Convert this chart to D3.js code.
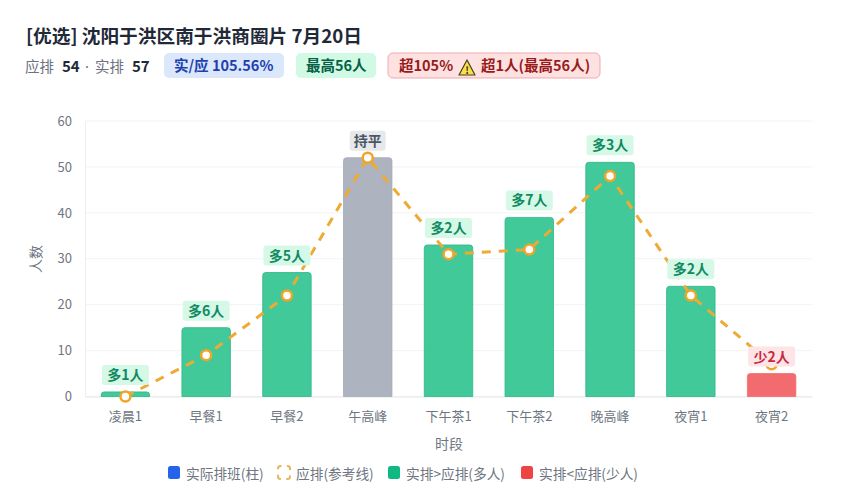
<!DOCTYPE html>
<html>
<head>
<meta charset="utf-8">
<script src="https://cdn.jsdelivr.net/npm/d3@7"></script>
<style>
  html, body { margin: 0; padding: 0; background: #fff; }
  svg { display: block; }
  text { font-family: "Noto Sans CJK SC", "Noto Sans", sans-serif; }
</style>
</head>
<body>
<div id="chart"></div>
<script>
const periods = ["凌晨1", "早餐1", "早餐2", "午高峰", "下午茶1", "下午茶2", "晚高峰", "夜宵1", "夜宵2"];
const actual = [1, 15, 27, 52, 33, 39, 51, 24, 5];
const planned = [0, 9, 22, 52, 31, 32, 48, 22, 7];
const yTicks = [0, 10, 20, 30, 40, 50, 60];
const legendLabels = ["实际排班(柱)", "应排(参考线)", "实排>应排(多人)", "实排<应排(少人)"];

const width = 844;
const height = 500;
const margin = { top: 121, right: 32, bottom: 103.5, left: 85 };

const svg = d3.select("#chart").append("svg")
  .attr("width", width)
  .attr("height", height);

// header
svg.append("text").attr("x", 26).attr("y", 43)
  .attr("font-size", 18.7).attr("font-weight", 700).attr("fill", "#1f2937")
  .text("[优选] 沈阳于洪区南于洪商圈片 7月20日");

const sub = svg.append("text").attr("x", 25).attr("y", 72).attr("font-size", 14.5).attr("fill", "#6b7280");
sub.append("tspan").text("应排");
sub.append("tspan").attr("x", 62).attr("font-size", 15).attr("font-weight", 700).attr("fill", "#1f2937").text("54");
sub.append("tspan").attr("x", 85).style("font-family", "'Noto Sans'").text("·");
sub.append("tspan").attr("x", 95).text("实排");
sub.append("tspan").attr("x", 132).attr("font-size", 15).attr("font-weight", 700).attr("fill", "#1f2937").text("57");

const pills = [
  { x: 164, w: 120, bg: "#dbe7fb", stroke: "none", fg: "#1e40af", tx: 174, t: "实/应 105.56%" },
  { x: 296, w: 80, bg: "#d1fae5", stroke: "none", fg: "#065f46", tx: 306, t: "最高56人" },
  { x: 388, w: 212, bg: "#fee2e2", stroke: "#f1a9ae", fg: "#991b1b", tx: 399, t: "超105%" }
];
pills.forEach(p => {
  svg.append("rect").attr("x", p.x).attr("y", 53).attr("width", p.w).attr("height", 25).attr("rx", 5)
    .attr("fill", p.bg).attr("stroke", p.stroke);
  svg.append("text").attr("x", p.tx).attr("y", 71).attr("font-size", 14.5).attr("font-weight", 600)
    .attr("fill", p.fg).text(p.t);
});
svg.append("path").attr("d", "M467 60 L475 75 L459 75 Z")
  .attr("fill", "#fde047").attr("stroke", "#3f3f1f").attr("stroke-width", 1.2).attr("stroke-linejoin", "round");
svg.append("text").attr("x", 467).attr("y", 74).attr("text-anchor", "middle")
  .attr("font-size", 10).attr("font-weight", 700).attr("fill", "#333").text("!");
svg.append("text").attr("x", 481).attr("y", 71).attr("font-size", 14.5).attr("font-weight", 600)
  .attr("fill", "#991b1b").text("超1人(最高56人)");

// scales
const x = d3.scaleBand().domain(periods).range([margin.left, width - margin.right]).paddingInner(0.4).paddingOuter(0.2);
const band = d3.scaleBand().domain(periods).range([margin.left, width - margin.right]);
const y = d3.scaleLinear().domain([0, 60]).range([height - margin.bottom, margin.top]);

// grid
svg.append("g").selectAll("line").data(yTicks).enter().append("line")
  .attr("x1", margin.left).attr("x2", width - margin.right)
  .attr("y1", d => y(d)).attr("y2", d => y(d))
  .attr("stroke", "#f1f3f6");

// axes
const yAxis = svg.append("g").attr("transform", `translate(${margin.left},0)`)
  .call(d3.axisLeft(y).tickValues(yTicks).tickSize(0).tickPadding(13));
yAxis.select(".domain").attr("stroke", "#eceef2");
yAxis.selectAll("text").attr("font-size", 13).attr("fill", "#6f7682");

const xAxis = svg.append("g").attr("transform", `translate(0,${y(0)})`)
  .call(d3.axisBottom(band).tickSize(0).tickPadding(15));
xAxis.select(".domain").attr("stroke", "#e5e7eb");
xAxis.selectAll("text").attr("font-size", 13).attr("fill", "#6f7682");

svg.append("text").attr("x", 449).attr("y", 449).attr("text-anchor", "middle")
  .attr("font-size", 14).attr("fill", "#6f7682").text("时段");
svg.append("text").attr("transform", "translate(41,259) rotate(-90)").attr("text-anchor", "middle")
  .attr("font-size", 14).attr("fill", "#6f7682").text("人数");

// bars
const diff = i => actual[i] - planned[i];
const barFill = i => diff(i) > 0 ? "#41c999" : diff(i) < 0 ? "#f26b6f" : "#adb3bf";
const barStroke = i => diff(i) > 0 ? "#2fb587" : diff(i) < 0 ? "#f26b6f" : "#a3a9b5";

function topRounded(x0, y0, w, h, r) {
  const rr = Math.min(r, h);
  return `M${x0},${y0 + h}V${y0 + rr}Q${x0},${y0} ${x0 + rr},${y0}H${x0 + w - rr}Q${x0 + w},${y0} ${x0 + w},${y0 + rr}V${y0 + h}Z`;
}

svg.append("g").selectAll("path").data(actual).enter().append("path")
  .attr("d", (d, i) => topRounded(x(periods[i]), y(d), x.bandwidth(), y(0) - y(d), 3))
  .attr("fill", (d, i) => barFill(i))
  .attr("stroke", (d, i) => barStroke(i))
  .attr("stroke-width", 0.8);

// reference line
const cx = i => band(periods[i]) + band.bandwidth() / 2;
const line = d3.line().x((d, i) => cx(i)).y(d => y(d));
svg.append("path").datum(planned)
  .attr("d", line)
  .attr("fill", "none")
  .attr("stroke", "#eeaa33")
  .attr("stroke-width", 3)
  .attr("stroke-dasharray", "9 8");

svg.append("g").selectAll("circle").data(planned).enter().append("circle")
  .attr("cx", (d, i) => cx(i))
  .attr("cy", d => y(d))
  .attr("r", 5)
  .attr("fill", "#fff")
  .attr("stroke", "#f0a527")
  .attr("stroke-width", 2.5);

// difference labels
const labelText = i => diff(i) > 0 ? `多${diff(i)}人` : diff(i) < 0 ? `少${-diff(i)}人` : "持平";
const labelBg = i => diff(i) > 0 ? "#d6f8e7" : diff(i) < 0 ? "#fde4e6" : "#e6e8ec";
const labelFg = i => diff(i) > 0 ? "#0f8a62" : diff(i) < 0 ? "#c8283c" : "#4b5563";

const labels = svg.append("g").selectAll("g").data(actual).enter().append("g")
  .attr("transform", (d, i) => `translate(${cx(i)},${y(d) - 17})`);
labels.append("rect")
  .attr("x", (d, i) => diff(i) === 0 ? -18 : -23.5)
  .attr("y", -10)
  .attr("width", (d, i) => diff(i) === 0 ? 36 : 47)
  .attr("height", 20)
  .attr("rx", 3)
  .attr("fill", (d, i) => labelBg(i));
labels.append("text")
  .attr("text-anchor", "middle")
  .attr("y", 5)
  .attr("font-size", 14)
  .attr("font-weight", 700)
  .attr("fill", (d, i) => labelFg(i))
  .text((d, i) => labelText(i));

// legend
const legendX = [168, 278, 388, 521];
const legendTextX = [186, 296, 406, 539];
const legendFill = ["#2563eb", "none", "#10b981", "#ef4444"];
const legendItems = svg.append("g").selectAll("g").data(legendLabels).enter().append("g");
legendItems.append("rect")
  .attr("x", (d, i) => legendX[i]).attr("y", 466)
  .attr("width", 12).attr("height", 13).attr("rx", 2.5)
  .attr("fill", (d, i) => legendFill[i])
  .attr("stroke", (d, i) => i === 1 ? "#e8b45a" : "none")
  .attr("stroke-width", 2)
  .attr("stroke-dasharray", (d, i) => i === 1 ? "6 5.43" : null)
  .attr("stroke-dashoffset", 5);
legendItems.append("text")
  .attr("x", (d, i) => legendTextX[i]).attr("y", 479)
  .attr("font-size", 13.7).attr("fill", "#6f7682")
  .text(d => d);
</script>
</body>
</html>
